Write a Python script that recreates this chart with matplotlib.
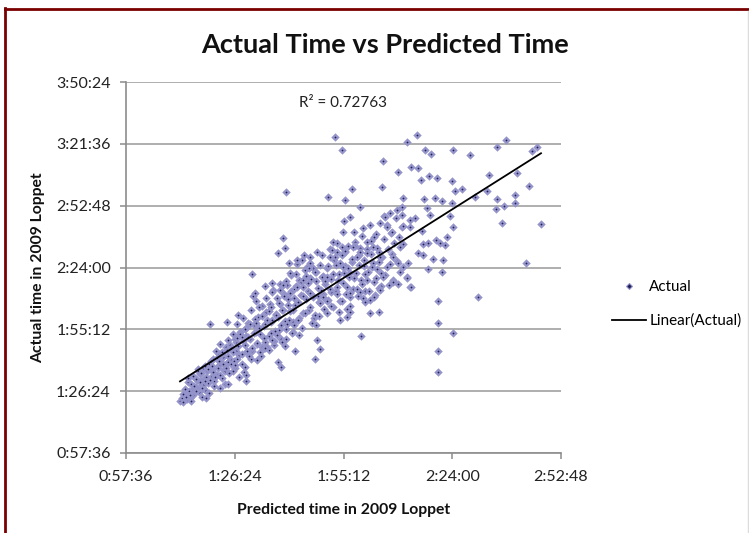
import numpy as np
import matplotlib
matplotlib.use("Agg")
import matplotlib.pyplot as plt
from matplotlib.lines import Line2D
from matplotlib.ticker import FuncFormatter, FixedLocator

plt.rcParams['font.family'] = ['Lato', 'DejaVu Sans']

# ---- data: (predicted minutes, actual minutes) ----
upper_right = [(134.7,205.7),(132.1,202.4),(136.8,198.7),(138.4,196.8),(144.2,198.7),(148.7,196.4),
    (155.9,200.1),(158.3,203.3),(165.2,198.2),(166.5,200.1),(133.1,190.8),(135.0,190.3),(135.7,184.7),
    (137.9,186.6),(140.0,185.6),(144.0,184.3),(144.8,179.6),(146.6,180.5),(153.8,187.0),(161.2,188.0),
    (164.4,181.9),(153.2,179.6),(150.1,176.8),(155.9,175.9),(160.6,177.7),(160.6,174.0),(155.6,171.2),
    (157.7,172.6),(157.2,164.7),(167.5,164.2)]
mid_right = [(131.0,176.3),(130.7,172.1),(136.6,175.9),(139.5,176.3),(141.4,174.9),(144.0,174.0),
    (137.4,171.7),(138.1,168.4),(143.4,168.0),(144.2,162.8),(134.1,167.0),(132.8,166.1),(132.8,162.8),
    (136.0,161.0),(131.0,163.3),(142.6,158.2),(142.1,154.4),(140.8,155.4),(139.7,156.8),(137.6,155.4),
    (136.3,154.9),(134.9,150.7),(136.3,149.8),(138.9,147.9),(141.6,147.4),(137.6,143.3),(141.4,141.9),
    (132.3,146.1),(132.1,139.1),(133.1,134.9),(131.0,144.2),(130.2,153.5),(131.0,154.9),(163.6,146.1)]
low_right = [(150.9,130.2),(140.2,128.4),(140.2,118.1),(144.2,113.4),(140.2,105.0),(140.2,95.3)]
upper_mid = [(113.0,204.7),(114.8,198.7),(125.6,193.6),(129.7,188.5),(100.0,179.1),(117.5,180.5),
    (125.4,181.5),(111.1,176.8),(115.6,175.4),(119.6,172.1),(127.6,169.3),(126.2,167.5),(129.4,170.7),
    (130.7,168.4),(117.0,167.5),(115.4,165.6),(120.4,162.3),(122.3,163.7),(124.9,164.7),(126.8,162.8),
    (128.1,160.5),(115.1,160.5),(99.2,157.7),(99.7,153.0),(97.9,150.7),(104.7,149.8),(91.0,140.9),
    (94.4,135.4),(91.8,132.1),(96.3,132.6)]
cluster_mid = [(101.0,141.4),(102.9,147.5),(106.3,146.1),(107.6,141.9),(111.6,148.9),(113.5,151.2),
    (114.8,153.5),(117.7,153.5),(118.8,148.9),(121.4,150.7),(123.0,153.5),(124.9,148.9),(126.8,144.2),
    (128.4,148.9),(129.7,146.1),(125.6,139.5),(128.4,138.1),(132.1,139.5),(132.8,134.9),(124.7,134.4),
    (115.1,144.2),(117.0,141.4),(121.4,138.1),(110.8,139.5),(113.5,134.9),(117.0,132.1),(104.5,138.1),
    (102.9,134.9),(99.2,135.8),(101.0,132.1),(106.3,132.1),(109.7,130.2)]
lower_side = [(79.9,117.6),(84.4,118.5),(119.9,112.0),(108.2,110.2),(109.0,106.0),(107.6,101.3),
    (102.4,105.1),(97.9,99.9),(98.7,97.6),(89.4,93.8),(89.4,91.0),(87.6,92.8),(84.7,89.6),(82.6,88.1),
    (77.6,88.1),(76.2,86.7),(73.5,83.9),(74.6,84.4),(77.6,83.9),(78.9,83.4),(83.1,104.6),(85.5,106.5),
    (87.1,111.2),(124.7,123.2),(122.3,122.6),(114.3,119.5),(116.2,120.9),(117.0,123.2),(128.4,137.2),
    (123.3,130.2),(124.9,133.5),(119.6,132.6),(103.1,119.5),(101.5,113.5),(98.8,109.3),(96.2,110.2),
    (94.4,106.5),(92.3,100.9),(89.0,97.6),(86.4,98.5)]
band_a = [(71.9,81.6),(72.4,83.0),(72.8,81.2),(73.3,84.5),(73.7,82.6),(74.1,85.8),(74.6,83.3),(75.0,86.9),
    (75.4,84.7),(75.8,87.6),(72.6,85.1),(74.9,81.9),
    (76.2,88.3),(76.5,91.7),(76.9,86.0),(77.2,94.4),(77.6,89.5),(77.9,97.1),(78.3,92.2),(78.6,86.8),
    (79.0,95.6),(79.3,90.4),(79.7,99.0),(80.0,93.1),(76.7,96.5),(78.1,88.0),(79.5,85.7),(77.4,91.0)]
band_b = [(80.3,96.8),(80.7,101.5),(81.0,91.2),(81.4,105.3),(81.8,94.0),(82.1,98.7),(82.5,108.2),(82.9,92.6),
    (83.2,102.4),(83.6,96.1),(84.0,106.9),(84.3,99.6),(84.7,110.1),(85.0,94.8),(80.9,88.9),(82.2,103.9),
    (83.8,89.7),(84.6,103.0),
    (85.3,100.7),(85.7,106.2),(86.0,112.8),(86.4,97.3),(86.8,109.1),(87.1,117.5),(87.5,103.4),(87.9,114.0),
    (88.2,99.2),(88.6,120.6),(89.0,107.7),(89.3,111.9),(89.7,104.5),(90.0,118.3),(85.9,95.8),(87.3,121.7),
    (88.8,95.1),(86.6,104.9),(89.5,115.6)]
band_c = [(90.4,110.6),(90.8,124.1),(91.1,104.9),(91.5,117.4),(91.9,128.6),(92.2,108.3),(92.6,121.0),
    (93.0,113.2),(93.3,102.7),(93.7,126.2),(94.1,116.8),(94.4,109.5),(94.8,129.9),(95.0,119.7),(90.6,101.4),
    (92.0,113.9),(93.5,107.1),(91.3,130.5),(94.6,123.4),(92.9,125.6),
    (95.4,112.3),(95.8,126.9),(96.1,118.6),(96.5,133.7),(96.9,107.8),(97.2,122.5),(97.6,129.8),(98.0,115.0),
    (98.3,136.1),(98.7,110.9),(99.1,124.4),(99.4,131.5),(99.8,119.3),(100.0,137.6),(95.6,105.5),(97.0,114.6),
    (98.5,127.2),(96.3,137.0),(99.6,107.3),(97.9,120.8)]
band_d = [(100.3,117.8),(100.6,129.3),(101.0,123.6),(101.3,140.5),(101.7,113.9),(102.0,134.2),(102.4,126.5),
    (102.8,145.8),(103.1,119.6),(103.5,138.0),(103.9,131.1),(104.2,147.3),(104.6,122.9),(105.0,142.7),
    (100.8,146.0),(101.9,118.5),(103.3,112.4),(104.4,134.8),(102.6,141.0),(100.2,136.0),
    (105.3,129.5),(105.7,136.8),(106.0,124.2),(106.4,149.1),(106.8,131.4),(107.1,143.6),(107.5,120.3),
    (107.9,137.7),(108.2,151.4),(108.6,127.9),(109.0,145.0),(109.3,133.6),(109.7,140.2),(110.0,124.8),
    (105.5,144.4),(106.9,118.2),(108.4,130.9),(109.5,150.0),(106.2,139.3),(108.8,121.5)]
band_e = [(110.3,136.3),(110.7,143.9),(111.1,129.0),(111.5,152.7),(111.9,138.8),(112.3,125.4),(112.7,147.5),
    (113.1,133.2),(113.5,155.3),(113.9,141.0),(114.3,128.6),(114.7,149.7),(115.1,136.9),(115.5,144.8),
    (115.9,131.5),(116.3,153.9),(116.7,139.6),(117.0,126.1),(110.9,122.6),(112.5,156.0),(114.1,123.3),
    (115.7,151.0),(113.3,145.2),(111.8,132.6)]
band_f = [(117.4,146.6),(117.8,134.1),(118.2,155.9),(118.6,141.3),(119.0,130.8),(119.4,149.8),(119.8,138.4),
    (120.2,158.7),(120.6,144.9),(121.0,133.0),(121.4,152.4),(121.8,141.7),(122.2,128.9),(122.6,156.3),
    (123.0,146.0),(123.4,137.3),(123.8,159.5),(124.2,143.4),(124.6,151.1),(125.0,135.6),(118.0,160.6),
    (120.8,127.8),(123.6,131.2),(119.6,153.0),
    (125.4,149.0),(125.8,157.4),(126.2,140.3),(126.6,163.8),(127.0,152.5),(127.4,145.7),(127.8,160.2),
    (128.2,137.9),(128.6,155.6),(129.0,166.9),(129.4,147.2),(129.8,158.1),(130.2,142.1),(130.6,162.7),
    (126.0,168.0),(128.0,150.3),(129.6,136.4),(127.2,135.8)]
core_a = [(73.2,87.5),(73.9,90.6),(74.4,86.3),(74.8,89.7),(75.3,93.4),(75.7,88.6),(76.2,91.9),(76.6,96.0),
    (77.1,90.8),(77.5,94.7),(78.0,89.3),(78.4,98.1),(78.9,93.0),(79.3,96.9),(79.8,91.6),(80.2,100.4),
    (80.7,95.5),(81.1,92.8),(81.6,101.7),(82.0,97.0),(82.5,94.1),(82.9,103.8),(83.4,98.9),(83.8,95.7),
    (84.3,105.6),(84.7,100.2),(74.1,92.4),(76.4,87.1),(78.6,91.0),(80.5,97.9),(82.3,100.6),(84.0,97.3)]
core_b = [(85.1,108.0),(85.5,98.9),(86.0,104.7),(86.4,110.9),(86.9,101.3),(87.3,107.6),(87.8,113.0),
    (88.2,103.5),(88.7,109.8),(89.1,115.2),(89.6,105.1),(90.0,111.7),(90.5,117.8),(90.9,106.6),(91.4,113.5),
    (91.8,120.0),(92.3,108.9),(92.7,115.6),(93.2,104.8),(93.6,121.4),(94.1,111.3),(94.5,117.9),(95.0,107.2),
    (95.4,123.6),(95.9,113.5),(96.3,119.7),(96.8,109.9),(86.2,100.3),(88.4,111.8),(90.2,102.9),(92.1,118.2),
    (94.2,106.4),(96.1,125.4)]
core_c = [(97.2,122.0),(97.7,112.6),(98.1,127.5),(98.6,117.4),(99.0,124.0),(99.5,130.8),(99.9,115.3),
    (100.4,126.7),(100.8,119.4),(101.3,132.9),(101.7,124.2),(102.2,117.1),(102.6,135.4),(103.1,127.9),
    (103.5,120.6),(104.0,137.2),(104.4,130.5),(104.9,122.7),(105.3,140.1),(105.8,133.0),(106.2,125.4),
    (106.7,138.6),(107.1,130.2),(107.6,122.1),(108.0,141.9),(108.5,134.6),(108.9,127.3),(109.4,139.5),
    (109.8,131.7),(98.3,133.6),(100.1,110.9),(102.0,129.6),(104.2,115.8),(106.0,144.0),(107.9,117.0)]
core_d = [(110.2,137.9),(110.7,128.4),(111.1,144.6),(111.6,134.2),(112.0,125.9),(112.5,140.8),(112.9,148.7),
    (113.4,131.6),(113.8,138.4),(114.3,145.9),(114.7,128.3),(115.2,141.5),(115.6,151.6),(116.1,135.0),
    (116.5,143.9),(117.0,130.2),(117.4,148.1),(117.9,139.3),(118.3,154.0),(118.8,133.8),(119.2,145.3),
    (119.7,151.2),(120.1,136.5),(120.6,147.7),(121.0,141.0),(121.5,155.8),(121.9,133.1),(122.4,150.4),
    (122.8,144.2),(123.3,158.0),(123.7,139.0),(124.2,152.9),(124.6,146.6),(125.0,141.3),(112.2,152.3),
    (116.2,124.9),(120.4,129.8)]

groups = [band_a, band_b, band_c, band_d, band_e, band_f, core_a, core_b, core_c, core_d,
          cluster_mid, lower_side, upper_mid, mid_right, upper_right, low_right]

x_ticks_min = [57.6, 86.4, 115.2, 144.0, 172.8]
y_ticks_min = [57.6, 86.4, 115.2, 144.0, 172.8, 201.6, 230.4]
r2_text = "R\u00b2 = 0.72763"

pts = np.array([p for g in groups for p in g])
pred, actual = pts[:, 0], pts[:, 1]

W, H = 749, 533
fig = plt.figure(figsize=(W / 100, H / 100), dpi=100)
ax = fig.add_axes([126 / W, 1 - 453 / H, 435 / W, 371 / H])

NAVY = '#1e1e52'
LAV = '#9494cb'
ax.plot(pred, actual, linestyle='none', marker='D', ms=2.7, mfc=NAVY, mec=LAV, mew=1.6, zorder=3)

k, b = np.polyfit(pred, actual, 1)
xs = np.array([pred.min(), pred.max()])
ax.plot(xs, k * xs + b, color='black', lw=1.3, zorder=4)

ax.set_xlim(57.6, 172.8)
ax.set_ylim(57.6, 230.4)

def fmt(v, pos=None):
    t = int(round(v * 60))
    return f"{t // 3600}:{(t % 3600) // 60:02d}:{t % 60:02d}"

ax.xaxis.set_major_locator(FixedLocator(x_ticks_min))
ax.yaxis.set_major_locator(FixedLocator(y_ticks_min))
ax.xaxis.set_major_formatter(FuncFormatter(fmt))
ax.yaxis.set_major_formatter(FuncFormatter(fmt))

GRID = '#a8a8a8'
ax.yaxis.grid(True, color=GRID, lw=1.3, zorder=1)
ax.set_axisbelow(True)
for s in ['top', 'right']:
    ax.spines[s].set_visible(False)
for s in ['left', 'bottom']:
    ax.spines[s].set_color('#8c8c8c')
    ax.spines[s].set_linewidth(1.2)
ax.tick_params(axis='both', colors='#8c8c8c', length=4, width=1.1, labelsize=11.5, labelcolor='#222222')
ax.tick_params(axis='y', pad=7)
ax.tick_params(axis='x', pad=8)

ax.set_xlabel("Predicted time in 2009 Loppet", fontsize=11.3, fontweight='bold', labelpad=14, color='#111111')
ax.set_ylabel("Actual time in 2009 Loppet", fontsize=11.3, fontweight='bold', labelpad=8, color='#111111')

fig.text(385 / W, 1 - 45 / H, "Actual Time vs Predicted Time", ha='center', va='center',
         fontsize=19.5, fontweight='bold', color='#111111')
ax.text(0.499, 0.943, r2_text, transform=ax.transAxes, ha='center', va='center', fontsize=11, color='#222222')

handles = [Line2D([], [], linestyle='none', marker='D', ms=3, mfc=NAVY, mec=LAV, mew=0.8),
           Line2D([], [], color='black', lw=1.3)]
fig.legend(handles, ["Actual", "Linear(Actual)"], loc='upper left', bbox_to_anchor=(612 / W, 1 - 280 / H),
           frameon=False, fontsize=11, handlelength=2.2, handletextpad=0.25, labelspacing=1.3,
           borderpad=0, borderaxespad=0)

RED = '#7a0000'
fig.add_artist(Line2D([5 / W, 5 / W], [0, 1 - 8 / H], transform=fig.transFigure, color=RED, lw=2.0))
fig.add_artist(Line2D([5 / W, 1], [1 - 9 / H, 1 - 9 / H], transform=fig.transFigure, color=RED, lw=2.0))
fig.add_artist(Line2D([747.5 / W, 747.5 / W], [0, 1 - 11 / H], transform=fig.transFigure, color='#dcdcdc', lw=1.0))

fig.savefig("out.png", dpi=100, facecolor='white')
